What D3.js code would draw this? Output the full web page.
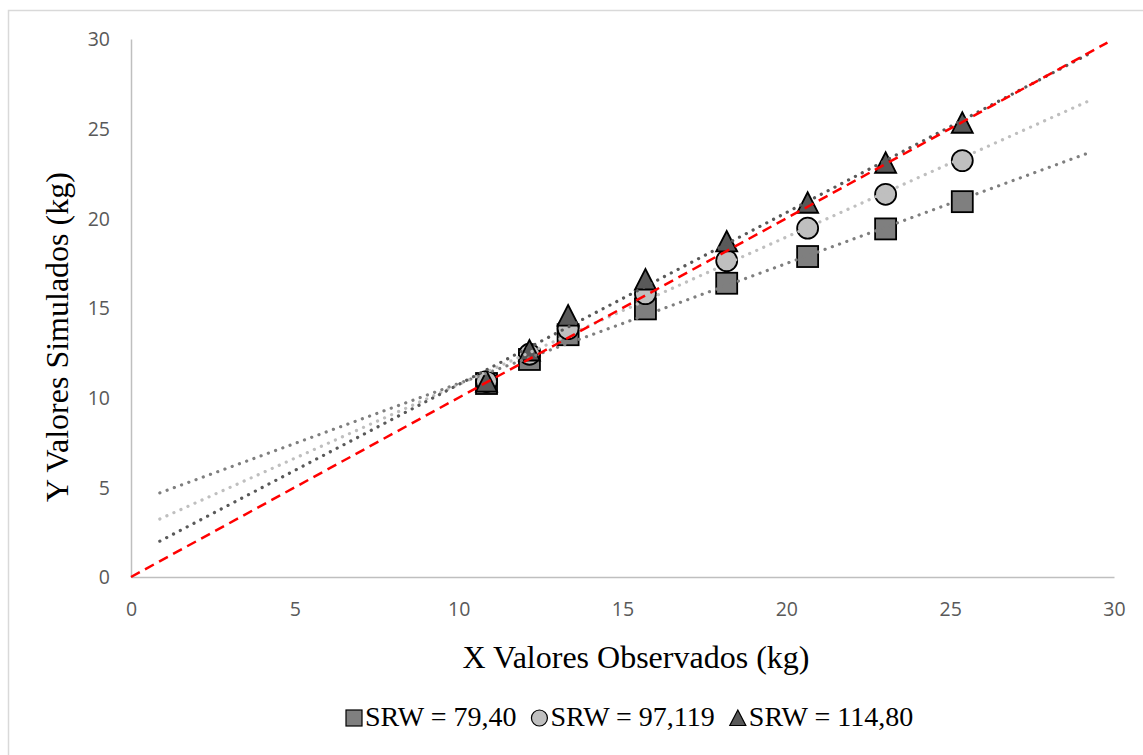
<!DOCTYPE html>
<html>
<head>
<meta charset="utf-8">
<script src="https://cdn.jsdelivr.net/npm/d3@7"></script>
<style>
body { margin: 0; background: #fff; }
</style>
</head>
<body>
<div id="chart"></div>
<script>
// values
const xObserved = [10.85, 12.16, 13.34, 15.70, 18.18, 20.65, 23.03, 25.37];
const ySquare = [10.79, 12.13, 13.51, 14.95, 16.38, 17.87, 19.41, 20.93];
const yCircle = [10.90, 12.42, 13.85, 15.80, 17.64, 19.45, 21.34, 23.22];
const yTriangle = [10.90, 12.63, 14.58, 16.59, 18.71, 20.87, 23.10, 25.33];
const seriesNames = ["SRW = 79,40", "SRW = 97,119", "SRW = 114,80"];
const tickValues = [0, 5, 10, 15, 20, 25, 30];
const trendExtent = [0.88, 29.3];
const identityExtent = [0, 29.8];

const w = 1143;
const h = 755;
const plotLeft = 131, plotRight = 1114, plotTop = 39, plotBottom = 577;

const xScale = d3.scaleLinear().domain([0, 30]).range([plotLeft, plotRight]);
const yScale = d3.scaleLinear().domain([0, 30]).range([plotBottom, plotTop]);

const svg = d3.select("#chart")
    .append("svg")
    .attr("width", w)
    .attr("height", h);

// chart border
svg.append("rect")
    .attr("x", 8.5)
    .attr("y", 10.5)
    .attr("width", w + 20)
    .attr("height", h + 20)
    .attr("fill", "none")
    .attr("stroke", "#d9d9d9")
    .attr("stroke-width", 1.5);

const xAxis = d3.axisBottom(xScale).tickValues(tickValues).tickSize(0).tickPadding(25);
const yAxis = d3.axisLeft(yScale).tickValues(tickValues).tickSize(0).tickPadding(21);

const gx = svg.append("g")
    .attr("transform", "translate(0," + plotBottom + ")")
    .call(xAxis);
const gy = svg.append("g")
    .attr("transform", "translate(" + plotLeft + ",0)")
    .call(yAxis);

[gx, gy].forEach(g => {
    g.select(".domain").attr("stroke", "#bfbfbf").attr("stroke-width", 1.5);
    g.selectAll("text")
        .attr("fill", "#595959")
        .style("font-family", "'Open Sans', sans-serif")
        .style("font-size", "19.5px");
});
gy.selectAll("text").attr("dy", "0.35em");

const series = [
    { name: seriesNames[0], ys: ySquare, shape: "square", fill: "#7f7f7f", trend: "#7f7f7f" },
    { name: seriesNames[1], ys: yCircle, shape: "circle", fill: "#bfbfbf", trend: "#bfbfbf" },
    { name: seriesNames[2], ys: yTriangle, shape: "triangle", fill: "#595959", trend: "#595959" }
];

const drawMarker = (g, shape, size, fill, strokeW) => {
    const r = size / 2;
    if (shape === "square") {
        g.append("rect").attr("x", -r).attr("y", -r).attr("width", size).attr("height", size)
            .attr("fill", fill).attr("stroke", "#000").attr("stroke-width", strokeW);
    } else if (shape === "circle") {
        g.append("circle").attr("r", r)
            .attr("fill", fill).attr("stroke", "#000").attr("stroke-width", strokeW);
    } else {
        g.append("path").attr("d", "M0," + (-r) + "L" + r + "," + (r - 0.5) + "L" + (-r) + "," + (r - 0.5) + "Z")
            .attr("fill", fill).attr("stroke", "#000").attr("stroke-width", strokeW)
            .attr("stroke-linejoin", "miter");
    }
};

// markers
series.forEach(s => {
    svg.append("g").selectAll("g")
        .data(xObserved.map((x, i) => [x, s.ys[i]]))
        .enter()
        .append("g")
        .attr("transform", d => "translate(" + xScale(d[0]) + "," + yScale(d[1]) + ")")
        .each(function () { drawMarker(d3.select(this), s.shape, 21, s.fill, 1.8); });
});

// linear trendlines (least squares from the series)
const line = d3.line().x(d => xScale(d[0])).y(d => yScale(d[1]));
series.forEach(s => {
    const mx = d3.mean(xObserved), my = d3.mean(s.ys);
    const sxy = d3.sum(xObserved, (x, i) => (x - mx) * (s.ys[i] - my));
    const sxx = d3.sum(xObserved, x => (x - mx) * (x - mx));
    const slope = sxy / sxx;
    const icpt = my - slope * mx;
    svg.append("path")
        .attr("d", line(trendExtent.map(x => [x, icpt + slope * x])))
        .attr("fill", "none")
        .attr("stroke", s.trend)
        .attr("stroke-width", 3.2)
        .attr("stroke-linecap", "round")
        .attr("stroke-dasharray", "0.1 7.6");
});

// 1:1 line
svg.append("path")
    .attr("d", line(identityExtent.map(v => [v, v])))
    .attr("fill", "none")
    .attr("stroke", "#ff0000")
    .attr("stroke-width", 2.5)
    .attr("stroke-dasharray", "10 6");

// axis titles
svg.append("text")
    .attr("x", 636)
    .attr("y", 668)
    .attr("text-anchor", "middle")
    .style("font-family", "'Liberation Serif', serif")
    .style("font-size", "32px")
    .attr("fill", "#000")
    .text("X Valores Observados (kg)");

svg.append("text")
    .attr("transform", "translate(68,337) rotate(-90)")
    .attr("text-anchor", "middle")
    .style("font-family", "'Liberation Serif', serif")
    .style("font-size", "32px")
    .attr("fill", "#000")
    .text("Y Valores Simulados (kg)");

// legend
const legend = svg.append("g").attr("transform", "translate(346,718)");
let lx = 0;
series.forEach(s => {
    const item = legend.append("g").attr("transform", "translate(" + (lx + 8) + ",0)");
    drawMarker(item, s.shape, 16, s.fill, 1.2);
    const t = legend.append("text")
        .attr("x", lx + 19)
        .attr("y", 8)
        .style("font-family", "'Liberation Serif', serif")
        .style("font-size", "28px")
        .attr("fill", "#000")
        .text(s.name);
    lx += 19 + t.node().getComputedTextLength() + 15;
});
</script>
</body>
</html>
